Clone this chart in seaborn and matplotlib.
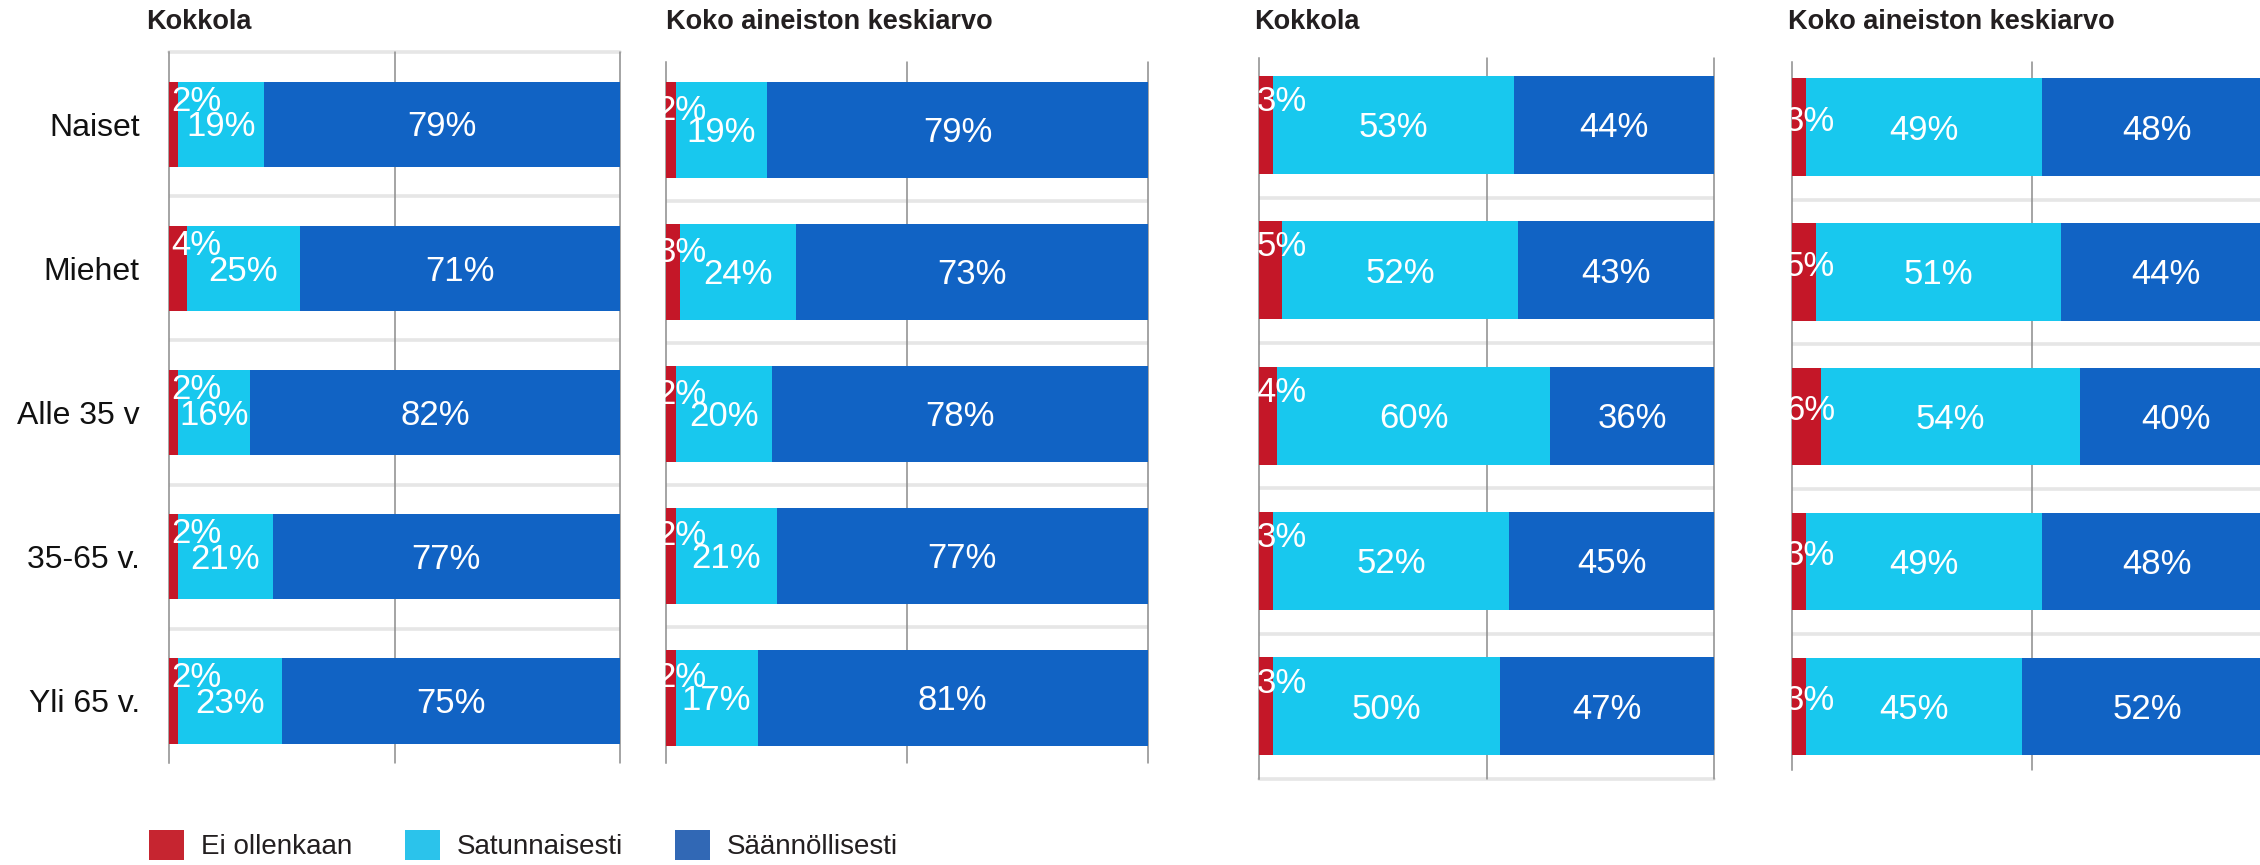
import matplotlib
matplotlib.use('Agg')
import matplotlib.pyplot as plt
from matplotlib import font_manager
from matplotlib.patches import Patch
import seaborn as sns
import pandas as pd
import numpy as np

sns.set_style("white")
plt.rcParams["font.family"] = ["Liberation Sans", "DejaVu Sans"]

# ==== Data ====
groups = ["Naiset", "Miehet", "Alle 35 v", "35-65 v.", "Yli 65 v."]
series_names = ["Ei ollenkaan", "Satunnaisesti", "Säännöllisesti"]
titles = ["Kokkola", "Koko aineiston keskiarvo", "Kokkola", "Koko aineiston keskiarvo"]

# left pair
kok_a = {"Ei ollenkaan": [2, 4, 2, 2, 2],
         "Satunnaisesti": [19, 25, 16, 21, 23],
         "Säännöllisesti": [79, 71, 82, 77, 75]}
avg_a = {"Ei ollenkaan": [2, 3, 2, 2, 2],
         "Satunnaisesti": [19, 24, 20, 21, 17],
         "Säännöllisesti": [79, 73, 78, 77, 81]}
# right pair
kok_b = {"Ei ollenkaan": [3, 5, 4, 3, 3],
         "Satunnaisesti": [53, 52, 60, 52, 50],
         "Säännöllisesti": [44, 43, 36, 45, 47]}
avg_b = {"Ei ollenkaan": [3, 5, 6, 3, 3],
         "Satunnaisesti": [49, 51, 54, 49, 45],
         "Säännöllisesti": [48, 44, 40, 48, 52]}

bar_colors = ["#C41728", "#18C8EE", "#1163C4"]
legend_colors = ["#C62530", "#2BC3EB", "#3168B5"]
grid_gray = "#8c8c8c"
sep_gray = "#e6e6e6"

names = {f.name for f in font_manager.fontManager.ttflist}
title_font = "Liberation Sans Narrow" if "Liberation Sans Narrow" in names else "Liberation Sans"
title_size = 22 if title_font == "Liberation Sans Narrow" else 19.5

W, H = 2260, 865
fig = plt.figure(figsize=(W / 100, H / 100), dpi=100)


def rect(left, right, top, bottom):
    return [left / W, 1 - bottom / H, (right - left) / W, (bottom - top) / H]


# panel settings: data, axes box (px), ylim, bar thickness, red label offsets
panels = [
    (kok_a, rect(169, 620, 52, 763), (4.43, -0.5), 0.59, 0.6, -0.16),
    (avg_a, rect(666, 1148, 62, 763), (4.46, -0.48), 0.675, -2.0, -0.14),
    (kok_b, rect(1259, 1714, 58, 779), (4.5, -0.46), 0.675, -0.5, -0.16),
    (avg_b, rect(1792, 2272, 62, 770), (4.44, -0.45), 0.673, -1.5, -0.04),
]
title_x = [146, 666, 1254, 1788]

for i, (data, box, ylim, bw, red_dx, red_dy) in enumerate(panels):
    ax = fig.add_axes(box)
    df = pd.DataFrame(data, index=groups)
    cum = df.cumsum(axis=1)

    # stacked bars: draw the longest first, then overlay shorter ones
    for name, col in zip(reversed(series_names), reversed(bar_colors)):
        sns.barplot(x=cum[name].values, y=groups, color=col, orient="h",
                    width=bw, saturation=1, linewidth=0, edgecolor="none",
                    ax=ax, zorder=3)

    # separators and vertical lines
    for k in range(4):
        ax.axhline(k + 0.5, color=sep_gray, lw=2.6, zorder=1)
    if i == 0:
        ax.axhline(-0.5, color=sep_gray, lw=2.6, zorder=1, clip_on=False)
    if i == 2:
        ax.axhline(4.5, color=sep_gray, lw=2.6, zorder=1, clip_on=False)
    for xv in [50, 100]:
        ax.axvline(xv, color=grid_gray, lw=1.1, zorder=2, clip_on=False)

    ax.set_xlim(0, 100)
    ax.set_ylim(*ylim)
    ax.set_xlabel("")
    ax.set_ylabel("")
    ax.set_xticks([])
    for s in ["top", "right", "bottom"]:
        ax.spines[s].set_visible(False)
    ax.spines["left"].set_color(grid_gray)
    ax.spines["left"].set_linewidth(1.1)
    ax.spines["left"].set_zorder(2)

    if i == 0:
        ax.set_yticks(range(len(groups)))
        ax.set_yticklabels(groups, fontsize=23, color="#111111")
        ax.tick_params(axis="y", which="major", length=0, pad=21)
        ax.set_yticks(np.arange(-0.5, 4.0, 1.0), minor=True)
        ax.tick_params(axis="y", which="minor", length=9, width=1.1, color=grid_gray)
    else:
        ax.set_yticks([])

    # value labels
    for r, g in enumerate(groups):
        red = df.loc[g, series_names[0]]
        cy = df.loc[g, series_names[1]]
        bl = df.loc[g, series_names[2]]
        ax.text(red_dx, r + red_dy, f"{red}%", color="white", fontsize=25,
                ha="left", va="center", zorder=5)
        ax.text(red + cy / 2, r + 0.02, f"{cy}%", color="white", fontsize=25,
                ha="center", va="center", zorder=5)
        ax.text(red + cy + bl / 2, r + 0.02, f"{bl}%", color="white", fontsize=25,
                ha="center", va="center", zorder=5)

    fig.text(title_x[i] / W, 1 - 29 / H, titles[i], fontsize=title_size, fontweight="bold",
             family=title_font, color="#231f20", ha="left", va="baseline")

handles = [Patch(facecolor=c, edgecolor="none") for c in legend_colors]
fig.legend(handles, series_names, loc="center left", bbox_to_anchor=(149 / W, 1 - 845 / H),
           ncol=3, frameon=False, fontsize=20, handlelength=1.26, handleheight=1.26,
           handletextpad=0.6, columnspacing=1.9, borderpad=0, borderaxespad=0,
           labelcolor="#231f20")

fig.savefig("out.png", dpi=100)
